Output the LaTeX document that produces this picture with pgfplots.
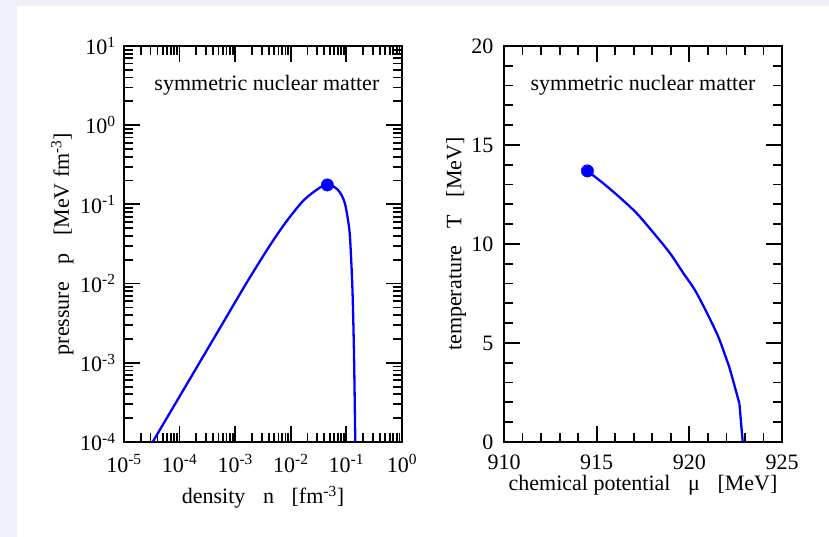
\documentclass[border=0pt]{standalone}
\usepackage{pgfplots}
\pgfplotsset{compat=1.18}
\usepackage{fontspec}
\setmainfont{Liberation Serif}
\definecolor{lav}{RGB}{240,240,253}
\definecolor{cblue}{RGB}{0,0,255}
\begin{document}
\begin{tikzpicture}
\fill[lav] (0pt,0pt) rectangle (829pt,537pt);
\fill[white] (17pt,0pt) rectangle (829pt,531pt);
\path[use as bounding box] (0pt,0pt) rectangle (829pt,537pt);
\pgfplotsset{
  every axis/.append style={
    scale only axis, width=278pt, height=396pt,
    axis line style={line width=2.4pt},
    every tick/.style={black, line width=1.8pt},
    major tick length=16pt, minor tick length=9pt,
    tick align=inside,
    font=\fontsize{22}{26}\selectfont,
    tick label style={font=\fontsize{22}{26}\selectfont},
  }
}
% ---------------- left panel ----------------
\begin{axis}[at={(124pt,95pt)}, anchor=south west,
  xmode=log, ymode=log,
  xmin=1e-5, xmax=1, ymin=1e-4, ymax=10,
  xtick={1e-5,1e-4,1e-3,1e-2,1e-1,1},
  xticklabels={10\textsuperscript{-5},10\textsuperscript{-4},10\textsuperscript{-3},10\textsuperscript{-2},10\textsuperscript{-1},10\textsuperscript{0}},
  ytick={1e-4,1e-3,1e-2,1e-1,1,10},
  yticklabels={10\textsuperscript{-4},10\textsuperscript{-3},10\textsuperscript{-2},10\textsuperscript{-1},10\textsuperscript{0},10\textsuperscript{1}},
  minor xtick={2e-5,3e-5,4e-5,5e-5,6e-5,7e-5,8e-5,9e-5,
    2e-4,3e-4,4e-4,5e-4,6e-4,7e-4,8e-4,9e-4,
    2e-3,3e-3,4e-3,5e-3,6e-3,7e-3,8e-3,9e-3,
    2e-2,3e-2,4e-2,5e-2,6e-2,7e-2,8e-2,9e-2,
    0.2,0.3,0.4,0.5,0.6,0.7,0.8,0.9},
  minor ytick={2e-4,3e-4,4e-4,5e-4,6e-4,7e-4,8e-4,9e-4,
    2e-3,3e-3,4e-3,5e-3,6e-3,7e-3,8e-3,9e-3,
    2e-2,3e-2,4e-2,5e-2,6e-2,7e-2,8e-2,9e-2,
    0.2,0.3,0.4,0.5,0.6,0.7,0.8,0.9,
    2,3,4,5,6,7,8,9},
  xticklabel style={yshift=-9pt},
  yticklabel style={xshift=-5pt},
  xlabel={density\hspace{0.8em}n\hspace{0.8em}[fm\textsuperscript{-3}]},
  ylabel={pressure\hspace{0.8em}p\hspace{0.8em}[MeV fm\textsuperscript{-3}]},
  xlabel style={at={(axis description cs:0.5,-0.139)}, anchor=center},
  ylabel style={at={(axis description cs:-0.222,0.5)}, anchor=center},
]
\addplot[cblue, line width=2.3pt, line join=round, smooth, tension=0.5] coordinates {
(3.28e-5,1e-4)
(1.259e-4,4.95e-4)
(5.01e-4,2.56e-3)
(1.585e-3,1.009e-2)
(4.23e-3,3.05e-2)
(8.43e-3,6.15e-2)
(1.68e-2,0.1115)
(2.92e-2,0.153)
(3.85e-2,0.1720)
(4.54e-2,0.176)
(5.81e-2,0.169)
(7.14e-2,0.151)
(8.22e-2,0.130)
(9.44e-2,0.102)
(0.107,0.0630)
(0.116,0.0387)
(0.128,0.00906)
(0.137,0.0013)
(0.1445,1e-4)
};
\addplot[only marks, mark=*, mark size=6.2pt, cblue] coordinates {(4.54e-2,0.176)};
\node at (rel axis cs:0.514,0.902) {symmetric nuclear matter};
\end{axis}
% ---------------- right panel ----------------
\begin{axis}[at={(504pt,95pt)}, anchor=south west,
  xmin=910, xmax=925, ymin=0, ymax=20,
  xtick={910,915,920,925}, ytick={0,5,10,15,20},
  minor x tick num=4, minor y tick num=4,
  xticklabel style={yshift=-9pt},
  yticklabel style={xshift=-7pt, inner ysep=0pt},
  xlabel={chemical potential\hspace{0.8em}μ\hspace{0.8em}[MeV]},
  ylabel={temperature\hspace{0.8em}T\hspace{0.8em}[MeV]},
  xlabel style={at={(axis description cs:0.5,-0.108)}, anchor=center},
  ylabel style={at={(axis description cs:-0.172,0.5)}, anchor=center},
  /pgf/number format/1000 sep={},
  /pgf/number format/assume math mode=true,
]
\addplot[cblue, line width=2.3pt, line join=round, smooth, tension=0.5] coordinates {
(914.50,13.69)
(915.36,13.06)
(916.26,12.34)
(917.16,11.55)
(918.06,10.57)
(918.96,9.53)
(919.68,8.52)
(920.40,7.51)
(921.48,5.49)
(922.02,4.14)
(922.20,3.64)
(922.70,1.95)
};
\addplot[cblue, line width=2.3pt, line join=round] coordinates {
(922.70,1.95)
(922.88,0)
};
\addplot[only marks, mark=*, mark size=6.2pt, cblue] coordinates {(914.50,13.69)};
\node at (rel axis cs:0.5,0.902) {symmetric nuclear matter};
\end{axis}
\end{tikzpicture}
\end{document}
